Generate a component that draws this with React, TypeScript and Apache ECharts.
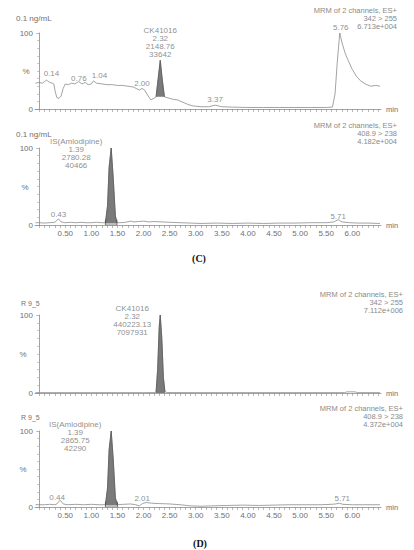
import React, { useEffect, useRef } from 'react';
import * as echarts from 'echarts';

// ---------- data ----------
// (C) upper trace: 342 > 255, 0.1 ng/mL
const c1Times = [-0.07, 0.0, 0.06, 0.1, 0.14, 0.2, 0.25, 0.28, 0.31, 0.34, 0.38, 0.42, 0.46, 0.5, 0.56, 0.62, 0.68, 0.73, 0.76, 0.82, 0.88, 0.94, 1.0, 1.04, 1.1, 1.2, 1.3, 1.4, 1.5, 1.6, 1.7, 1.8, 1.86, 1.92, 1.97, 2.02, 2.08, 2.14, 2.2, 2.24, 2.28, 2.32, 2.36, 2.4, 2.45, 2.55, 2.65, 2.75, 2.85, 2.95, 3.1, 3.25, 3.37, 3.5, 3.7, 4.0, 4.3, 4.6, 4.9, 5.2, 5.5, 5.62, 5.67, 5.71, 5.76, 5.8, 5.86, 5.92, 6.0, 6.08, 6.16, 6.25, 6.35, 6.45, 6.53];
const c1Values = [34, 35, 34, 36, 38, 35, 34, 33, 22, 15, 14, 17, 27, 33, 32, 34, 33, 35, 36, 33, 35, 32, 33, 37, 34, 33, 32, 32, 31, 31, 30, 29, 27, 25, 27, 25, 18, 12, 14, 16, 40, 64, 38, 16, 15, 13, 12, 9, 6, 4, 3, 3, 5, 3, 2.5, 2, 2, 2, 2, 2, 2, 2.5, 20, 60, 100, 88, 74, 64, 52, 43, 37, 33, 30, 31, 30];
const c1PeakWindow = [2.24, 2.4];
const c1PeakBase = 16;

// (C) lower trace: 408.9 > 238, IS
const c2Times = [-0.07, 0.0, 0.1, 0.2, 0.3, 0.37, 0.42, 0.5, 0.6, 0.7, 0.8, 0.9, 1.0, 1.1, 1.2, 1.27, 1.31, 1.34, 1.38, 1.42, 1.46, 1.49, 1.55, 1.65, 1.75, 1.82, 1.9, 2.0, 2.1, 2.2, 2.35, 2.5, 2.7, 2.9, 3.1, 3.4, 3.7, 4.0, 4.3, 4.6, 4.9, 5.2, 5.5, 5.65, 5.73, 5.8, 5.95, 6.1, 6.3, 6.53];
const c2Values = [3, 3, 2.5, 3, 3.5, 8, 4, 3, 3.5, 3, 3.5, 3, 3, 3.5, 3, 3, 25, 75, 100, 60, 12, 3, 3, 3.5, 5, 4, 4.5, 5, 4, 4.5, 4, 3.5, 3, 2.5, 2, 2.5, 2, 2.5, 2, 2.5, 2.5, 3, 3, 4, 7, 4, 3, 2.5, 2.5, 2];
const c2PeakWindow = [1.27, 1.49];
const c2PeakBase = 2;

// (D) upper trace: 342 > 255, R 9_5
const d1Times = [-0.07, 0.5, 1.0, 1.5, 2.0, 2.2, 2.24, 2.27, 2.3, 2.32, 2.35, 2.38, 2.41, 2.45, 3.0, 4.0, 5.0, 5.85, 5.9, 6.05, 6.1, 6.53];
const d1Values = [0.5, 0.5, 0.5, 0.5, 0.5, 0.6, 1, 30, 85, 100, 70, 20, 1.5, 0.6, 0.5, 0.5, 0.5, 0.5, 1.5, 1.5, 0.5, 0.5];
const d1PeakWindow = [2.24, 2.41];
const d1PeakBase = 0;

// (D) lower trace: 408.9 > 238, R 9_5
const d2Times = [-0.07, 0.1, 0.2, 0.3, 0.34, 0.4, 0.46, 0.55, 0.7, 0.85, 1.0, 1.15, 1.27, 1.31, 1.34, 1.38, 1.42, 1.46, 1.5, 1.6, 1.75, 1.85, 1.92, 1.98, 2.05, 2.15, 2.3, 2.5, 2.7, 2.9, 3.1, 3.3, 3.6, 3.9, 4.2, 4.5, 4.8, 5.1, 5.4, 5.6, 5.68, 5.75, 5.82, 6.0, 6.2, 6.53];
const d2Values = [3, 3, 3.5, 3, 4, 9, 4, 3, 3.5, 3, 3.5, 3, 3, 25, 75, 100, 62, 12, 3, 3.5, 4, 3, 1.5, 4.5, 6, 5, 4.5, 4, 3, 1.5, 1, 1.5, 2, 2.5, 2, 2.5, 3, 3, 3, 3.5, 4, 5, 3.5, 3, 3, 3];
const d2PeakWindow = [1.27, 1.5];
const d2PeakBase = 2;

// peak annotations: retention time, apex height, text
const c1Labels = [
  { t: 0.14, v: 38, text: '0.14' },
  { t: 0.76, v: 36, text: '0.76' },
  { t: 1.04, v: 37, text: '1.04' },
  { t: 1.97, v: 27, text: '2.00' },
  { t: 2.32, v: 64, text: 'CK41016\n2.32\n2148.76\n33642' },
  { t: 3.37, v: 5, text: '3.37' },
  { t: 5.76, v: 100, text: '5.76' },
];
const c2Labels = [
  { t: 0.37, v: 8, text: '0.43' },
  { t: 1.38, v: 100, text: 'IS(Amlodipine)\n1.39\n2780.28\n40466' },
  { t: 5.73, v: 7, text: '5.71' },
];
const d1Labels = [
  { t: 2.32, v: 100, text: 'CK41016\n2.32\n440223.13\n7097931' },
];
const d2Labels = [
  { t: 0.4, v: 9, text: '0.44' },
  { t: 1.38, v: 100, text: 'IS(Amlodipine)\n1.39\n2865.75\n42290' },
  { t: 2.05, v: 6, text: '2.01' },
  { t: 5.75, v: 5, text: '5.71' },
];

const sampleNames = ['0.1 ng/mL', '0.1 ng/mL', 'R 9_5', 'R 9_5'];
const channelHeaders = [
  'MRM of 2 channels, ES+\n342 > 255\n6.713e+004',
  'MRM of 2 channels, ES+\n408.9 > 238\n4.182e+004',
  'MRM of 2 channels, ES+\n342 > 255\n7.112e+006',
  'MRM of 2 channels, ES+\n408.9 > 238\n4.372e+004',
];
const panelTitles = ['(C)', '(D)'];
const xLabelValues = [0.5, 1.0, 1.5, 2.0, 2.5, 3.0, 3.5, 4.0, 4.5, 5.0, 5.5, 6.0];
const yTickLabels = ['0', '100'];

// ---------- layout / style ----------
const X_MIN = -0.08;
const X_MAX = 6.55;
const GRID_LEFT = 35;
const GRID_RIGHT = 33;
const panelLayout = [
  { top: 33, height: 76, showX: false, headerRight: 397, headerTop: 6, nameY: 18, nameX: 16, pctX: 26, pctY: 71 },
  { top: 148, height: 77, showX: true, headerRight: 397, headerTop: 121, nameY: 134, nameX: 16, pctX: 25, pctY: 187 },
  { top: 315, height: 78, showX: false, headerRight: 403, headerTop: 290, nameY: 303, nameX: 21, pctX: 23, pctY: 354 },
  { top: 431, height: 76, showX: true, headerRight: 403, headerTop: 404, nameY: 417, nameX: 21, pctX: 23, pctY: 469 },
];
const labelOffsets = [
  [[5, -1], [0, 2], [6, 0], [0, 1], [0, 0], [0, 0], [1, 0]],
  [[0, 1.5], [-35, 23], [0, 2]],
  [[-28, 23]],
  [[-3, 3], [-36, 23], [-4, 2], [3, 1]],
];

const FONT = 'Liberation Sans, Arial, sans-serif';
const TEXT = '#707070';
const LINE = '#8c8c8c';

const traces = [
  { times: c1Times, values: c1Values, win: c1PeakWindow, base: c1PeakBase, labels: c1Labels, bracket: false },
  { times: c2Times, values: c2Values, win: c2PeakWindow, base: c2PeakBase, labels: c2Labels, bracket: true },
  { times: d1Times, values: d1Values, win: d1PeakWindow, base: d1PeakBase, labels: d1Labels, bracket: false },
  { times: d2Times, values: d2Values, win: d2PeakWindow, base: d2PeakBase, labels: d2Labels, bracket: true },
];

const xTickValues: number[] = [];
for (let k = 0; k <= 65; k++) xTickValues.push(Math.round(k) / 10);

export default function App() {
  const ref = useRef<HTMLDivElement>(null);
  useEffect(() => {
    if (!ref.current) return;
    const chart = echarts.init(ref.current, undefined, { renderer: 'svg' });

    const grid = panelLayout.map((p) => ({ left: GRID_LEFT, right: GRID_RIGHT, top: p.top, height: p.height }));
    const xAxis = panelLayout.map((p, i) => ({
      type: 'value',
      gridIndex: i,
      min: X_MIN,
      max: X_MAX,
      name: 'min',
      nameLocation: 'end',
      nameGap: 5,
      nameTextStyle: { fontSize: 7.5, color: TEXT, fontFamily: FONT },
      axisLine: { show: true, lineStyle: { color: LINE, width: 0.8 } },
      axisTick: { show: true, customValues: xTickValues, length: 3, lineStyle: { color: LINE, width: 0.6 } },
      axisLabel: {
        show: p.showX,
        customValues: xLabelValues,
        formatter: (v: number) => v.toFixed(2),
        fontSize: 8,
        color: TEXT,
        fontFamily: FONT,
        margin: 4,
      },
      splitLine: { show: false },
    }));
    const yAxis = panelLayout.map((p, i) => ({
      type: 'value',
      gridIndex: i,
      min: 0,
      max: 100,
      interval: 100,
      axisLine: { show: true, lineStyle: { color: LINE, width: 0.8 } },
      axisTick: { show: true, length: 3, lineStyle: { color: LINE, width: 0.6 } },
      minorTick: { show: true, splitNumber: 10, length: 2, lineStyle: { color: LINE, width: 0.5 } },
      axisLabel: {
        fontSize: 8,
        color: TEXT,
        fontFamily: FONT,
        margin: 2,
        formatter: (v: number) => (v === 0 ? yTickLabels[0] : yTickLabels[1]),
      },
      splitLine: { show: false },
    }));

    const series: any[] = [];
    traces.forEach((tr, i) => {
      const pts = tr.times.map((t, k) => [t, tr.values[k]]);
      series.push({
        type: 'line',
        xAxisIndex: i,
        yAxisIndex: i,
        data: pts,
        symbol: 'none',
        lineStyle: { color: LINE, width: 0.8 },
        z: 3,
        silent: true,
      });
      const peakPts = pts.filter((p) => p[0] >= tr.win[0] && p[0] <= tr.win[1]);
      series.push({
        type: 'line',
        xAxisIndex: i,
        yAxisIndex: i,
        data: peakPts,
        symbol: 'none',
        lineStyle: { color: '#555', width: 0.7 },
        areaStyle: { color: '#7a7a7a', opacity: 1, origin: tr.base },
        z: 4,
        silent: true,
      });
      if (tr.bracket) {
        series.push({
          type: 'line',
          xAxisIndex: i,
          yAxisIndex: i,
          data: [[tr.win[0], 7], [tr.win[0], 0], [tr.win[1], 0], [tr.win[1], 7]],
          symbol: 'none',
          lineStyle: { color: '#444', width: 0.7 },
          z: 5,
          silent: true,
        });
      }
      series.push({
        type: 'scatter',
        xAxisIndex: i,
        yAxisIndex: i,
        symbolSize: 1,
        itemStyle: { color: 'transparent' },
        silent: true,
        z: 6,
        data: tr.labels.map((l, k) => ({
          value: [l.t, l.v],
          name: l.text,
          label: { offset: labelOffsets[i][k] },
        })),
        label: {
          show: true,
          position: 'top',
          distance: 1,
          formatter: (p: any) => p.name,
          fontSize: 8,
          lineHeight: 8,
          color: TEXT,
          fontFamily: FONT,
        },
      });
    });

    const graphic: any[] = [];
    panelLayout.forEach((p, i) => {
      graphic.push({
        type: 'text',
        x: p.headerRight,
        y: p.headerTop,
        style: { text: channelHeaders[i], align: 'right', verticalAlign: 'top', fontSize: 7.5, lineHeight: 8, fill: '#8a8a8a', fontFamily: FONT },
      });
      graphic.push({
        type: 'text',
        x: p.nameX,
        y: p.nameY,
        style: { text: sampleNames[i], align: 'left', verticalAlign: 'middle', fontSize: i < 2 ? 8 : 7, fill: TEXT, fontFamily: FONT },
      });
      graphic.push({
        type: 'text',
        x: p.pctX,
        y: p.pctY,
        style: { text: '%', align: 'center', verticalAlign: 'middle', fontSize: 8, fill: TEXT, fontFamily: FONT },
      });
    });
    graphic.push({
      type: 'text', x: 199, y: 258,
      style: { text: panelTitles[0], align: 'center', verticalAlign: 'middle', fontSize: 10, fontWeight: 'bold', fill: '#111', fontFamily: 'Liberation Serif, Times New Roman, serif' },
    });
    graphic.push({
      type: 'text', x: 200, y: 543,
      style: { text: panelTitles[1], align: 'center', verticalAlign: 'middle', fontSize: 10, fontWeight: 'bold', fill: '#111', fontFamily: 'Liberation Serif, Times New Roman, serif' },
    });

    chart.setOption({
      animation: false,
      backgroundColor: '#ffffff',
      grid,
      xAxis,
      yAxis,
      series,
      graphic,
    });
    return () => chart.dispose();
  }, []);
  return <div ref={ref} style={{ position: 'absolute', left: 0, top: 0, width: 414, height: 550 }} />;
}
